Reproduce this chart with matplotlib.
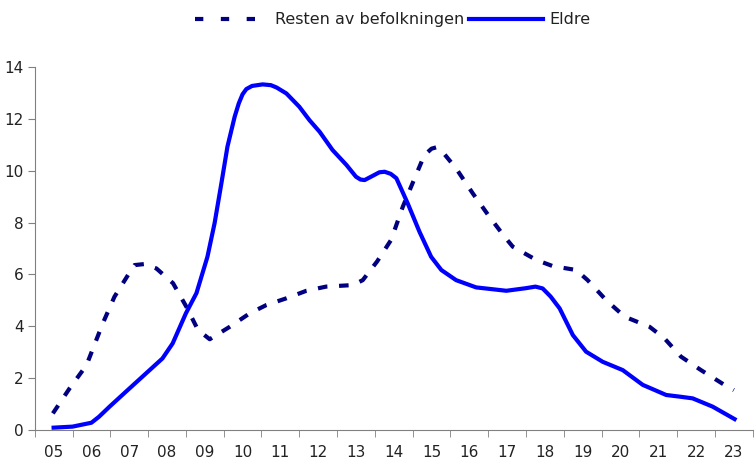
import matplotlib.pyplot as plt
from matplotlib.lines import Line2D

plt.rcParams['font.family'] = ['DejaVu Sans']

# hour labels on the x axis
hours = ['05', '06', '07', '08', '09', '10', '11', '12', '13', '14',
         '15', '16', '17', '18', '19', '20', '21', '22', '23']

# Eldre (solid)
eldre_x = [5.0, 5.5, 6.0, 6.2, 6.48, 6.96, 7.45, 7.88, 8.15, 8.5, 8.78, 9.07,
           9.26, 9.44, 9.6, 9.79, 9.9, 10.0, 10.1, 10.25, 10.53, 10.75, 10.9,
           11.16, 11.5, 11.77, 12.04, 12.38, 12.75, 13.0, 13.12, 13.23, 13.44,
           13.62, 13.76, 13.92, 14.07, 14.37, 14.68, 14.99, 15.26, 15.65, 16.18,
           16.98, 17.5, 17.75, 17.94, 18.15, 18.39, 18.74, 19.09, 19.53, 20.06,
           20.59, 21.21, 21.6, 21.91, 22.44, 23.02]
eldre_y = [0.09, 0.13, 0.28, 0.51, 0.9, 1.54, 2.19, 2.76, 3.34, 4.5, 5.28, 6.68,
           7.98, 9.52, 10.93, 12.08, 12.6, 12.95, 13.15, 13.27, 13.33, 13.3, 13.21,
           12.98, 12.47, 11.95, 11.5, 10.8, 10.22, 9.77, 9.66, 9.64, 9.8,
           9.94, 9.96, 9.88, 9.71, 8.74, 7.65, 6.68, 6.17, 5.78, 5.5,
           5.37, 5.47, 5.53, 5.46, 5.15, 4.69, 3.66, 3.02, 2.63, 2.31,
           1.74, 1.35, 1.28, 1.22, 0.9, 0.42]

# Resten av befolkningen (dashed)
resten_x = [4.98, 5.42, 5.87, 6.3, 6.61, 6.97, 7.14, 7.4, 7.72, 8.16, 8.51, 8.82,
            9.13, 9.66, 10.19, 10.63, 11.16, 11.69, 12.21, 12.92, 13.18, 13.56,
            13.93, 14.24, 14.55, 14.81, 15.0, 15.12, 15.25, 15.65, 16.09, 16.53,
            16.93, 17.15, 17.77, 18.21, 18.83, 19.13, 19.62, 20.11, 20.77, 21.16,
            21.6, 22.13, 22.75, 23.0]
resten_y = [0.64, 1.6, 2.5, 4.11, 5.14, 5.98, 6.36, 6.4, 6.23, 5.66, 4.76, 3.86,
            3.5, 3.98, 4.5, 4.82, 5.08, 5.37, 5.53, 5.59, 5.78, 6.5,
            7.33, 8.61, 9.7, 10.6, 10.85, 10.9, 10.8, 10.09, 9.13, 8.23,
            7.46, 7.07, 6.56, 6.32, 6.17, 5.78, 5.01, 4.37, 3.98, 3.54,
            2.83, 2.31, 1.74, 1.54]

navy = '#000080'
blue = '#0000ff'

fig = plt.figure(figsize=(7.55, 4.72), dpi=100)
ax = fig.add_axes([0.046, 0.089, 0.951, 0.769])

ax.plot(resten_x, resten_y, color=navy, lw=3, dashes=(2.3, 2.8),
        dash_capstyle='butt', dash_joinstyle='round')
ax.plot(eldre_x, eldre_y, color=blue, lw=3, solid_joinstyle='round')

ax.set_xlim(4.5, 23.5)
ax.set_ylim(0, 14)
ax.set_yticks(range(0, 15, 2))
ax.set_xticks(range(5, 24))
ax.set_xticklabels(hours)
ax.set_xticks([h - 0.5 for h in range(5, 25)], minor=True)
ax.tick_params(axis='x', which='major', length=0, pad=11, labelsize=11,
               labelcolor='#222222')
ax.tick_params(axis='x', which='minor', length=5, direction='out', color='#808080')
ax.tick_params(axis='y', length=5, direction='out', color='#808080',
               labelsize=11, pad=3, labelcolor='#222222')

for s in ['top', 'right']:
    ax.spines[s].set_visible(False)
for s in ['left', 'bottom']:
    ax.spines[s].set_color('#808080')

# legend dashes are drawn shorter than in the plot
handles = [Line2D([], [], color=navy, lw=3, dashes=(2.0, 4.2)),
           Line2D([], [], color=blue, lw=3)]
fig.legend(handles, ['Resten av befolkningen', 'Eldre'], loc='center',
           bbox_to_anchor=(0.52, 0.958), ncol=2, frameon=False,
           fontsize=11.5, handlelength=4.6, handletextpad=0.4,
           columnspacing=0.3, labelcolor='#222222')

fig.savefig('out.png')
